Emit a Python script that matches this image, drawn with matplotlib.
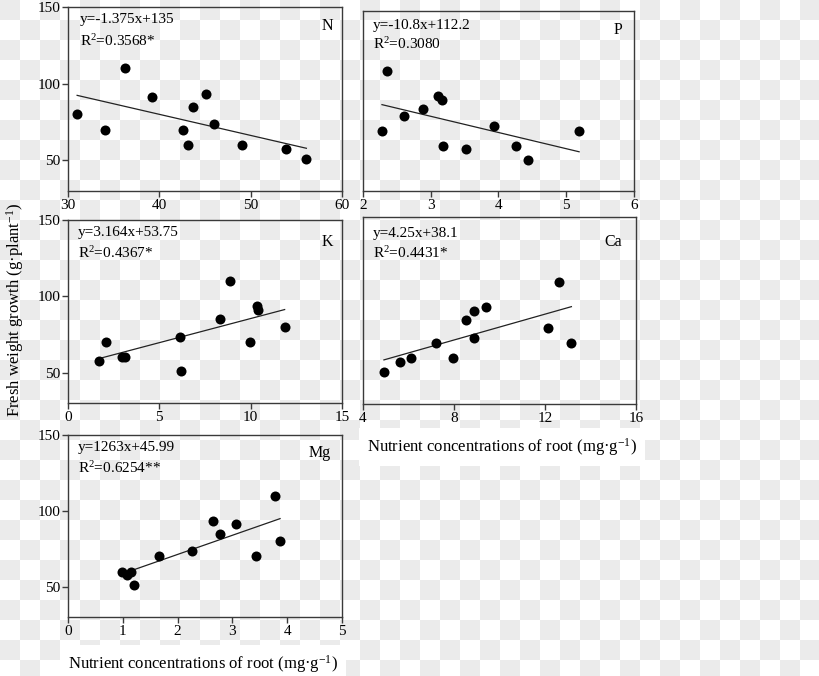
import numpy as np
import matplotlib
matplotlib.use("Agg")
import matplotlib.pyplot as plt

plt.rcParams['font.family'] = ['Liberation Serif', 'DejaVu Serif']
plt.rcParams['mathtext.fontset'] = 'custom'
plt.rcParams['mathtext.rm'] = 'Liberation Serif'
plt.rcParams['mathtext.it'] = 'Liberation Serif:italic'
plt.rcParams['mathtext.default'] = 'regular'

# ---- data ----
N_x = [31.0, 34.1, 36.2, 39.2, 42.6, 43.1, 43.7, 45.1, 46.0, 49.1, 53.9, 56.1]
N_y = [80, 70, 110, 91, 70, 60, 85, 93.5, 73.5, 60, 57.5, 51]
P_x = [2.28, 2.36, 2.61, 2.88, 3.11, 3.16, 3.18, 3.52, 3.93, 4.26, 4.44, 5.19]
P_y = [70, 110, 80, 85, 93.5, 91, 60, 58, 73.5, 60, 51, 70]
K_x = [1.72, 2.1, 2.94, 3.14, 6.13, 6.2, 8.32, 8.87, 9.98, 10.33, 10.4, 11.86]
K_y = [57.5, 70, 60, 60, 73.5, 51, 85, 110, 70, 93.5, 91, 80]
Ca_x = [4.92, 5.64, 6.09, 7.22, 7.97, 8.51, 8.87, 8.86, 9.40, 12.14, 12.63, 13.16]
Ca_y = [51, 57.5, 60, 70, 60, 85, 73.5, 91, 93.5, 80, 110, 70]
Mg_x = [0.99, 1.07, 1.15, 1.21, 1.66, 2.27, 2.65, 2.77, 3.06, 3.43, 3.78, 3.87]
Mg_y = [60, 57.5, 60, 51, 70, 73.5, 93.5, 85, 91, 70, 110, 80]

slopes = [-1.375, -10.8, 3.164, 4.25, 12.63]
intercepts = [135, 112.2, 53.75, 38.1, 45.99]
panel_names = ['N', 'P', 'K', 'Ca', 'Mg']
equations = ['y=-1.375x+135', 'y=-10.8x+112.2', 'y=3.164x+53.75', 'y=4.25x+38.1', 'y=1263x+45.99']
r2_texts = ['R$^{2}$=0.3568*', 'R$^{2}$=0.3080', 'R$^{2}$=0.4367*', 'R$^{2}$=0.4431*', 'R$^{2}$=0.6254**']
x_ticks = [[30, 40, 50, 60], [2, 3, 4, 5, 6], [0, 5, 10, 15], [4, 8, 12, 16], [0, 1, 2, 3, 4, 5]]
y_ticks = [50, 100, 150]
xlabel = 'Nutrient concentrations of root (mg·g$^{-1}$)'
ylabel = 'Fresh weight growth (g·plant$^{-1}$)'

W, H = 820, 676
fig = plt.figure(figsize=(W / 100, H / 100), dpi=100, facecolor='white')

# transparent-background checkerboard
yy, xx = np.mgrid[0:H, 0:W]
chk = ((xx // 20 + yy // 20) % 2 == 0)
img = np.where(chk, 0.925, 1.0)
img = np.dstack([img, img, img])
fig.figimage(img[::-1] if False else img, xo=0, yo=0, origin='upper', zorder=0)

def fr(l, t, r, b):
    return [l / W, 1 - b / H, (r - l) / W, (b - t) / H]

# (left, top, right, bottom) in pixels
boxes = [(68, 7, 342, 191), (363, 11, 634, 191), (68, 220, 342, 403),
         (363, 217, 636, 404), (68, 435, 342, 617)]
ylims = [(30, 150), (30, 150), (30, 150), (30, 153), (30, 150)]
xlims = [(30, 60), (2, 6), (0, 15), (4, 16), (0, 5)]
show_y = [True, False, True, False, True]
eq_pos = [(0.044, 0.93, 0.815), (0.037, 0.922, 0.817), (0.037, 0.929, 0.82),
          (0.037, 0.914, 0.807), (0.037, 0.929, 0.819)]
name_pos = [(0.945, 0.897), (0.94, 0.894), (0.945, 0.88), (0.916, 0.866), (0.92, 0.90)]

xs = [N_x, P_x, K_x, Ca_x, Mg_x]
ys = [N_y, P_y, K_y, Ca_y, Mg_y]

spine_col = '#3a3a3a'
for i in range(5):
    ax = fig.add_axes(fr(*boxes[i]))
    ax.set_facecolor('none')
    ax.set_zorder(2)
    ax.scatter(xs[i], ys[i], s=52, color='black', zorder=3, linewidths=0)
    xl = np.array([min(xs[i]), max(xs[i])])
    ax.plot(xl, slopes[i] * xl + intercepts[i], color='#222222', lw=0.9, zorder=2)
    ax.set_xlim(*xlims[i])
    ax.set_ylim(*ylims[i])
    ax.set_xticks(x_ticks[i])
    ax.set_xticklabels([str(v) for v in x_ticks[i]])
    if show_y[i]:
        ax.set_yticks(y_ticks)
        ax.set_yticklabels([str(v) for v in y_ticks])
    else:
        ax.set_yticks([])
    for sp in ax.spines.values():
        sp.set_color(spine_col)
        sp.set_linewidth(1.0)
    ax.tick_params(direction='out', length=4, width=1.0, color=spine_col,
                   labelsize=11, pad=1.5, labelcolor='black')
    ex, ey1, ey2 = eq_pos[i]
    ax.text(ex, ey1, equations[i], transform=ax.transAxes, fontsize=11,
            ha='left', va='center')
    ax.text(ex, ey2, r2_texts[i], transform=ax.transAxes, fontsize=11,
            ha='left', va='center')
    nx, ny = name_pos[i]
    ax.text(nx, ny, panel_names[i], transform=ax.transAxes, fontsize=11.5,
            ha='center', va='center')

# shared labels
fig.text(15 / W, 1 - 310 / H, ylabel, rotation=90, ha='center', va='center', fontsize=12)
fig.text(502 / W, 1 - 447 / H, xlabel, ha='center', va='center', fontsize=12,
         bbox=dict(facecolor='white', edgecolor='none', pad=6))
fig.text(203 / W, 1 - 664 / H, xlabel, ha='center', va='center', fontsize=12,
         bbox=dict(facecolor='white', edgecolor='none', pad=6))

fig.savefig('out.png', dpi=100, facecolor='white')
